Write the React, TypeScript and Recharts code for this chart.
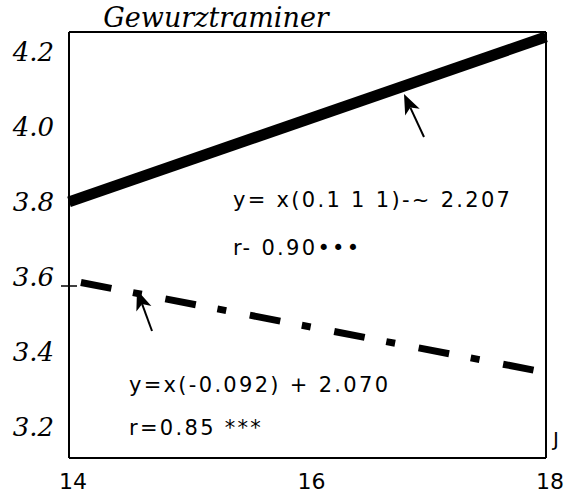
import { LineChart, Line, XAxis, YAxis, ReferenceLine } from 'recharts';

// regression lines (x = 14..18)
const solidX = [14, 18];
const solidY = [3.8, 4.24];
const dashX = [14.1, 18];
const dashY = [3.585, 3.345];

const xTicks = [14, 16, 18];
const yTicks = [3.2, 3.4, 3.6, 3.8, 4.0, 4.2];
const yDomain = [3.117, 4.253];

const title = 'Gewurztraminer';
const upperNote = ['y= x(0.1 1 1)-~ 2.207', 'r- 0.90•••'];
const lowerNote = ['y=x(-0.092) + 2.070', 'r=0.85 ***'];

const W = 565;
const H = 496;
const SANS = '"DejaVu Sans", sans-serif';
const SERIF = '"DejaVu Serif", serif';

// merge both series into one table keyed by x
const data = [
    ...solidX.map((x, i) => ({ x, solid: solidY[i] })),
    ...dashX.map((x, i) => ({ x, dash: dashY[i] })),
].sort((a, b) => a.x - b.x);

function Arrow({ tip, tail }: { tip: [number, number]; tail: [number, number] }) {
    const dx = tip[0] - tail[0];
    const dy = tip[1] - tail[1];
    const len = Math.hypot(dx, dy);
    const ux = dx / len;
    const uy = dy / len;
    const headLen = 20;
    const halfW = 8;
    const bx = tip[0] - ux * headLen;
    const by = tip[1] - uy * headLen;
    const nx = bx + ux * 5;
    const ny = by + uy * 5;
    const pts = [
        [tip[0], tip[1]],
        [bx - uy * halfW, by + ux * halfW],
        [nx, ny],
        [bx + uy * halfW, by - ux * halfW],
    ].map((p) => p.join(',')).join(' ');
    return (
        <g>
            <line x1={tail[0]} y1={tail[1]} x2={nx} y2={ny} stroke="#000" strokeWidth={2} />
            <polygon points={pts} fill="#000" />
        </g>
    );
}

export default function App() {
    return (
        <div style={{ position: 'relative', width: W, height: H, background: '#fff' }}>
            <style>{'body{margin:0}'}</style>
            <LineChart width={W} height={H} data={data} margin={{ top: 32, right: 19, bottom: 0, left: 0 }}>
                <XAxis
                    dataKey="x"
                    type="number"
                    domain={[14, 18]}
                    ticks={xTicks}
                    height={38}
                    tickLine={false}
                    tickSize={0}
                    tickMargin={15}
                    axisLine={{ stroke: '#000', strokeWidth: 2 }}
                    tick={{ fill: '#000', fontSize: 22, fontFamily: SANS, dx: 4 }}
                />
                <YAxis
                    type="number"
                    domain={yDomain}
                    ticks={yTicks}
                    width={69}
                    tickLine={false}
                    tickSize={0}
                    tickMargin={15}
                    allowDataOverflow
                    axisLine={{ stroke: '#000', strokeWidth: 2 }}
                    tickFormatter={(v) => v.toFixed(1)}
                    tick={{ fill: '#000', fontSize: 26, fontFamily: SERIF, fontStyle: 'italic' }}
                />
                <ReferenceLine x={18} stroke="#000" strokeWidth={2} />
                <ReferenceLine y={yDomain[1]} stroke="#000" strokeWidth={2} />
                <Line
                    dataKey="solid"
                    stroke="#000"
                    strokeWidth={11}
                    dot={false}
                    connectNulls
                    isAnimationActive={false}
                />
                <Line
                    dataKey="dash"
                    stroke="#000"
                    strokeWidth={7}
                    strokeDasharray="31 22 9 24"
                    dot={false}
                    connectNulls
                    isAnimationActive={false}
                />
            </LineChart>
            <svg
                width={W}
                height={H}
                style={{ position: 'absolute', left: 0, top: 0, pointerEvents: 'none' }}
            >
                <text x={216} y={27} textAnchor="middle" fontFamily={SERIF} fontStyle="italic" fontSize={27}>
                    {title}
                </text>
                {/* small tick at 3.6 */}
                <line x1={61} y1={286} x2={77} y2={286} stroke="#000" strokeWidth={1.5} />
                <g fontFamily={SANS} fontSize={21} letterSpacing={2.3} fill="#000">
                    <text x={233} y={207}>{upperNote[0]}</text>
                    <text x={233} y={255}>{upperNote[1]}</text>
                    <text x={129} y={392}>{lowerNote[0]}</text>
                    <text x={129} y={435}>{lowerNote[1]}</text>
                </g>
                <text x={553} y={446} fontFamily={SANS} fontSize={20}>J</text>
                <Arrow tip={[404, 94]} tail={[424, 137]} />
                <Arrow tip={[137, 290]} tail={[152, 331]} />
            </svg>
        </div>
    );
}
